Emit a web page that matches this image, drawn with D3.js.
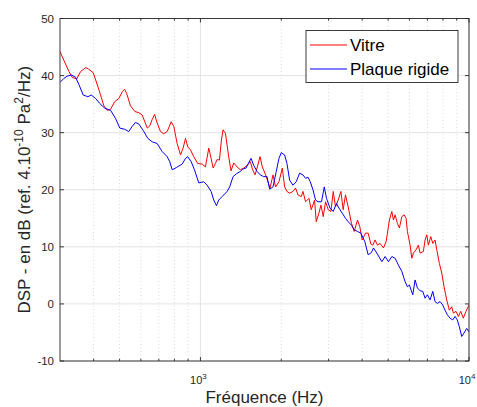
<!DOCTYPE html>
<html><head><meta charset="utf-8">
<script src="https://cdn.jsdelivr.net/npm/d3@7"></script>
<style>body{margin:0;background:#fff}text{font-family:"Liberation Sans",Arial,Helvetica,sans-serif}</style>
</head><body><svg id="c" width="477" height="407"></svg>
<script>
const seriesNames = ["Vitre", "Plaque rigide"];
const seriesColors = ["#ff0000", "#0000ff"];
const vitreFreq = [300,310,324,333,346,358,374,384,399,419,437,450,463,479,497,512,522,531,549,570,590,607,634,648,661,675,690,710,730,752,778,796,819,843,862,880,897,918,944,977,1015,1044,1074,1089,1115,1137,1154,1177,1197,1214,1239,1274,1300,1330,1369,1408,1449,1495,1534,1565,1597,1629,1667,1700,1749,1816,1863,1905,1961,2018,2058,2100,2148,2211,2261,2308,2374,2409,2463,2536,2586,2660,2699,2762,2810,2866,2923,2991,3061,3122,3184,3258,3334,3401,3468,3549,3651,3737,3844,3923,4002,4116,4212,4311,4385,4472,4561,4668,4802,4914,4969,5055,5160,5231,5307,5413,5507,5621,5733,5832,5897,6035,6124,6208,6353,6479,6574,6763,6862,6963,7059,7205,7330,7476,7585,7756,7917,8074,8263,8449,8625,8744,8948,9126,9315,9525,9747,10000];
const vitreDb = [44.2,42.7,40.7,39.7,39.4,40.7,41.4,41.1,40.5,37.5,34.7,33.9,34.1,35.4,36.0,37.2,37.6,36.9,34.7,33.7,33.5,33.1,30.8,31.2,32.3,33.2,31.7,30.2,29.8,30.2,31.9,31.1,28.1,26.1,27.3,29.0,27.5,27.0,25.8,24.6,24.5,24.0,27.3,26.1,23.8,24.6,25.3,25.2,28.7,30.5,29.9,25.8,23.3,24.7,24.0,23.5,23.8,24.3,24.9,23.5,22.6,24.0,25.8,24.0,22.6,20.3,22.6,20.5,21.4,23.8,20.5,19.7,19.4,19.7,20.3,19.1,18.8,19.7,17.9,18.5,16.5,18.2,14.4,15.9,17.3,15.3,17.9,16.5,16.2,19.7,17.0,18.2,19.7,16.5,19.1,17.0,14.1,12.7,14.7,13.5,11.2,12.4,12.4,10.5,10.3,11.2,10.3,10.6,9.8,10.9,12.4,14.7,16.2,14.7,15.6,14.1,13.3,15.3,15.6,15.0,12.7,10.3,8.0,8.9,9.5,10.3,8.9,9.2,11.2,12.1,10.3,11.8,10.6,11.2,9.5,7.1,5.4,3.0,0.7,-1.1,-0.5,-1.6,-1.3,-2.2,-1.3,-2.5,-1.3,-0.2];
const plaqueFreq = [300,310,319,331,343,353,366,381,392,407,422,440,463,483,501,522,541,557,573,590,612,637,661,690,720,752,769,785,814,855,880,897,924,950,986,1029,1059,1096,1121,1147,1170,1204,1257,1285,1323,1361,1408,1436,1479,1508,1543,1578,1625,1671,1719,1770,1810,1863,1916,1961,2000,2058,2100,2148,2211,2274,2340,2409,2463,2514,2564,2624,2683,2739,2824,2891,2948,3035,3122,3211,3278,3372,3468,3549,3651,3737,3844,3957,4095,4212,4333,4408,4538,4737,4872,5012,5160,5307,5460,5621,5782,5897,5999,6176,6299,6424,6574,6728,6862,6998,7162,7330,7476,7624,7802,7985,8144,8306,8500,8699,8872,9048,9204,9395,9582,9805,10000];
const plaqueDb = [38.8,39.5,39.9,40.1,39.7,38.4,36.6,36.3,36.6,36.0,35.1,34.3,33.9,32.5,30.8,30.6,30.2,31.1,31.8,31.5,30.4,29.0,28.4,28.1,26.7,25.8,24.9,23.5,23.9,24.5,25.5,25.8,24.9,23.5,21.2,21.4,20.8,19.7,18.2,17.2,18.2,18.8,19.7,20.5,22.3,22.8,23.2,23.6,23.8,24.6,25.5,24.3,23.2,22.6,22.3,22.3,20.1,20.5,23.2,25.5,26.5,26.1,24.6,21.7,20.8,21.4,22.9,22.6,22.0,22.2,21.4,20.0,18.2,17.9,17.9,20.5,18.5,16.8,16.2,17.6,16.8,15.9,15.0,14.4,13.8,13.0,12.7,12.4,10.9,8.6,9.0,9.8,8.9,7.4,8.3,7.4,8.3,8.0,6.8,5.7,3.9,3.0,3.3,1.6,4.2,2.8,2.3,2.2,1.0,1.6,0.7,2.2,0.4,0.1,0.4,-0.2,-1.1,-1.9,-2.5,-2.8,-2.2,-2.8,-4.0,-5.7,-5.1,-4.3,-4.9];
const yTicks = [-10, 0, 10, 20, 30, 40, 50];
const xMajorTicks = [1000, 10000];
const xMajorLabels = [["10", "3"], ["10", "4"]];
const xMinorTicks = [400, 500, 600, 700, 800, 900, 2000, 3000, 4000, 5000, 6000, 7000, 8000, 9000];
const xDomain = [300, 10000];
const yDomain = [-10, 50];
const xLabel = "Fréquence (Hz)";

const svg = d3.select("#c");
const L = 60, R = 469, T = 18.5, B = 361;
const x = d3.scaleLog().domain(xDomain).range([L, R]);
const y = d3.scaleLinear().domain(yDomain).range([B, T]);
const axisCol = "#262626";

// grid
const g = svg.append("g");
g.selectAll(".ygrid").data(yTicks).enter().append("line")
  .attr("x1", L).attr("x2", R).attr("y1", d => y(d)).attr("y2", d => y(d))
  .attr("stroke", "#e3e3e3").attr("stroke-width", 1);
g.selectAll(".xmin").data(xMinorTicks).enter().append("line")
  .attr("x1", d => x(d)).attr("x2", d => x(d)).attr("y1", T).attr("y2", B)
  .attr("stroke", "#d0d0d0").attr("stroke-width", 0.8).attr("stroke-dasharray", "1,2.5");
g.selectAll(".xmaj").data(xMajorTicks).enter().append("line")
  .attr("x1", d => x(d)).attr("x2", d => x(d)).attr("y1", T).attr("y2", B)
  .attr("stroke", "#e3e3e3").attr("stroke-width", 1);

// data lines
svg.append("clipPath").attr("id", "clip").append("rect")
  .attr("x", L).attr("y", T).attr("width", R - L).attr("height", B - T);
const line = d3.line().x(d => x(d[0])).y(d => y(d[1]));
const series = [d3.zip(vitreFreq, vitreDb), d3.zip(plaqueFreq, plaqueDb)];
series.forEach((s, i) => {
  svg.append("path").datum(s).attr("d", line).attr("fill", "none")
    .attr("stroke", seriesColors[i]).attr("stroke-width", 1)
    .attr("clip-path", "url(#clip)");
});

// box
svg.append("rect").attr("x", L).attr("y", T).attr("width", R - L).attr("height", B - T)
  .attr("fill", "none").attr("stroke", axisCol).attr("stroke-width", 0.9);

// ticks
const tk = svg.append("g").attr("stroke", axisCol).attr("stroke-width", 0.9);
yTicks.forEach(v => {
  tk.append("line").attr("x1", L).attr("x2", L + 4).attr("y1", y(v)).attr("y2", y(v));
  tk.append("line").attr("x1", R).attr("x2", R - 4).attr("y1", y(v)).attr("y2", y(v));
});
xMajorTicks.forEach(v => {
  tk.append("line").attr("x1", x(v)).attr("x2", x(v)).attr("y1", B).attr("y2", B - 4);
  tk.append("line").attr("x1", x(v)).attr("x2", x(v)).attr("y1", T).attr("y2", T + 4);
});
xMinorTicks.forEach(v => {
  tk.append("line").attr("x1", x(v)).attr("x2", x(v)).attr("y1", B).attr("y2", B - 2.2);
  tk.append("line").attr("x1", x(v)).attr("x2", x(v)).attr("y1", T).attr("y2", T + 2.2);
});

// tick labels
svg.selectAll(".yl").data(yTicks).enter().append("text")
  .attr("x", L - 6).attr("y", d => y(d) + 4).attr("text-anchor", "end")
  .attr("font-size", 11.5).attr("fill", axisCol).text(d => d);
xMajorTicks.forEach((v, i) => {
  const t = svg.append("text").attr("x", x(v) - 2).attr("y", 384)
    .attr("text-anchor", "middle").attr("font-size", 11).attr("fill", axisCol);
  t.append("tspan").text(xMajorLabels[i][0]);
  t.append("tspan").attr("dy", -5).attr("font-size", 8).text(xMajorLabels[i][1]);
});

// axis labels
svg.append("text").attr("x", (L + R) / 2).attr("y", 402.5).attr("text-anchor", "middle")
  .attr("font-size", 17).attr("fill", axisCol).text(xLabel);
const yl = svg.append("text").attr("transform", `translate(30,${(T + B) / 2}) rotate(-90)`)
  .attr("text-anchor", "middle").attr("font-size", 17).attr("fill", axisCol);
yl.append("tspan").text("DSP - en dB (ref. 4.10");
yl.append("tspan").attr("dy", -7).attr("font-size", 12).text("-10");
yl.append("tspan").attr("dy", 7).text(" Pa");
yl.append("tspan").attr("dy", -7).attr("font-size", 12).text("2");
yl.append("tspan").attr("dy", 7).text("/Hz)");

// legend
const lg = svg.append("g");
lg.append("rect").attr("x", 306).attr("y", 30.5).attr("width", 152).attr("height", 52)
  .attr("fill", "#fff").attr("stroke", axisCol).attr("stroke-width", 0.9);
seriesNames.forEach((n, i) => {
  const yy = 45 + i * 24;
  lg.append("line").attr("x1", 310).attr("x2", 347).attr("y1", yy).attr("y2", yy)
    .attr("stroke", seriesColors[i]).attr("stroke-width", 1);
  lg.append("text").attr("x", 350).attr("y", yy + 6).attr("font-size", 17)
    .attr("fill", "#000").text(n);
});
</script></body></html>
